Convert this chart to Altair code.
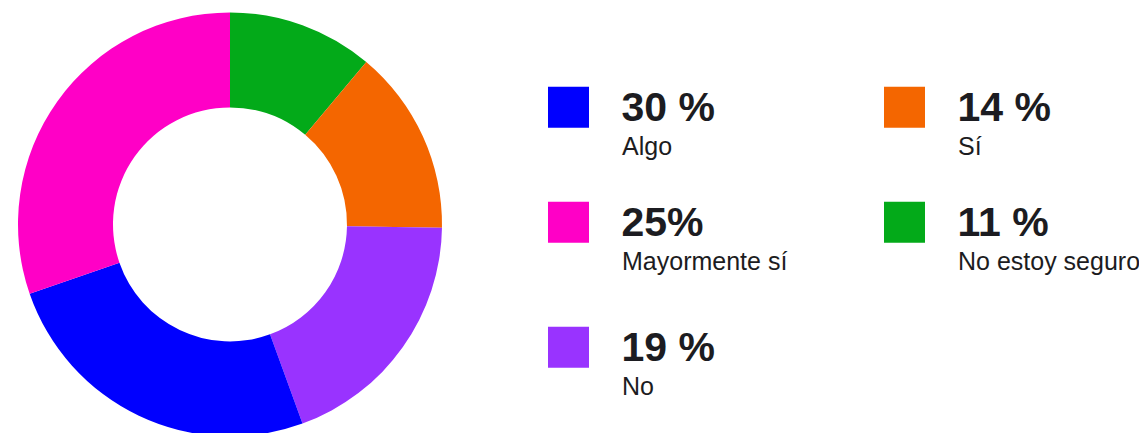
import altair as alt
import pandas as pd

# Slices, clockwise from 12 o'clock (sizes as drawn in the reference)
slice_categories = ["No estoy seguro", "Sí", "No", "Algo", "Mayormente sí"]
slice_values = [11, 14, 19, 25, 30]
slice_colors = ["#03aa19", "#f46600", "#9933ff", "#0000ff", "#ff00c6"]

# Legend entries (as printed in the reference)
legend_categories = ["Algo", "Sí", "Mayormente sí", "No estoy seguro", "No"]
legend_pct_labels = ["30 %", "14 %", "25%", "11 %", "19 %"]
legend_cols = [0, 1, 0, 1, 0]
legend_rows = [0, 0, 1, 1, 2]

pie_df = pd.DataFrame({
    "categoria": slice_categories,
    "valor": slice_values,
    "orden": list(range(len(slice_categories))),
})
leg_df = pd.DataFrame({
    "categoria": legend_categories,
    "pct": legend_pct_labels,
    "col": legend_cols,
    "row": legend_rows,
})

color_scale = alt.Scale(domain=slice_categories, range=slice_colors)
x_scale = alt.Scale(domain=[0, 1], range=[560.5, 896.5], nice=False, zero=False)
y_scale = alt.Scale(domain=[0, 1, 2], range=[99.3, 214.3, 339.3], nice=False, zero=False)

donut = alt.Chart(pie_df).mark_arc(innerRadius=117, outerRadius=212).encode(
    theta=alt.Theta("valor:Q", stack=True),
    order=alt.Order("orden:Q"),
    color=alt.Color("categoria:N", scale=color_scale, legend=None),
    x=alt.value(222),
    y=alt.value(216.4),
)

xenc = alt.X("col:Q", scale=x_scale, axis=None)
yenc = alt.Y("row:Q", scale=y_scale, axis=None)

squares = alt.Chart(leg_df).mark_square(size=41 * 41, opacity=1, strokeWidth=0).encode(
    x=xenc, y=yenc,
    color=alt.Color("categoria:N", scale=color_scale, legend=None),
)

pct_text = alt.Chart(leg_df).mark_text(
    align="left", baseline="alphabetic", dx=53, dy=14,
    font="Liberation Sans", fontWeight="bold", fontSize=41, color="#1c1c21",
).encode(x=xenc, y=yenc, text="pct:N")

cat_text = alt.Chart(leg_df).mark_text(
    align="left", baseline="alphabetic", dx=53.5, dy=48,
    font="Liberation Sans", fontSize=25, color="#1c1c21",
).encode(x=xenc, y=yenc, text="categoria:N")

chart = alt.layer(donut, squares, pct_text, cat_text).properties(
    width=1131, height=425,
    autosize=alt.AutoSizeParams(type="none"),
    padding=0,
).configure_view(stroke=None)

chart.save("out.html", embed_options={"renderer": "svg", "actions": False})
